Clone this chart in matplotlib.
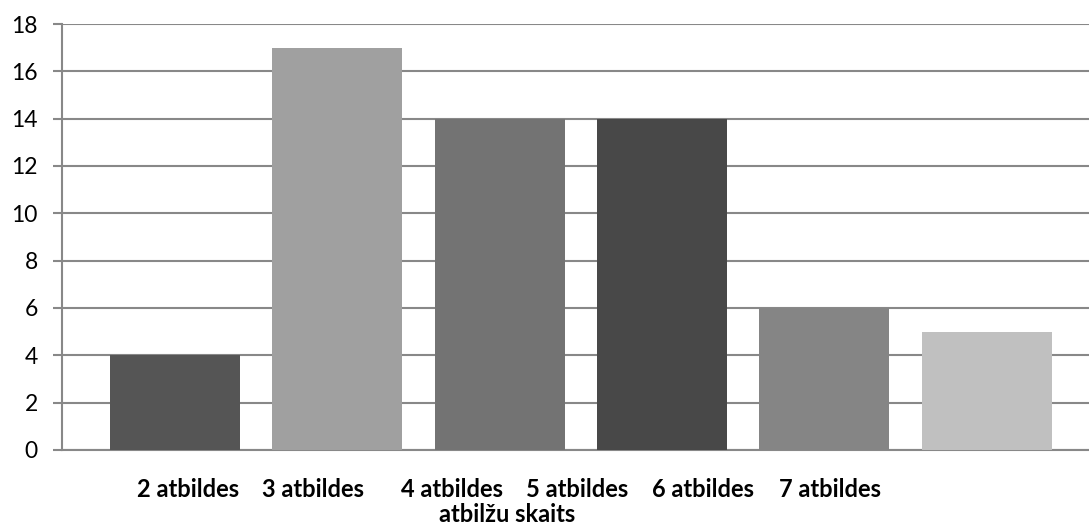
import numpy as np
import matplotlib.pyplot as plt

categories = ['2 atbildes', '3 atbildes', '4 atbildes', '5 atbildes', '6 atbildes', '7 atbildes']
counts = [4, 17, 14, 14, 6, 5]
colors = ['#555555', '#a0a0a0', '#737373', '#484848', '#858585', '#c0c0c0']

# category labels don't line up with the bars, they run on a tighter spacing
label_pos = [0.08, 0.85, 1.707, 2.477, 3.253, 4.036]

plt.rcParams['font.family'] = ['Lato', 'DejaVu Sans']

fig = plt.figure(figsize=(10.89, 5.29), dpi=100)
ax = fig.add_axes([62 / 1089, 79 / 529, 1027 / 1089, 426 / 529])

x = np.arange(len(counts))
ax.bar(x, counts, width=0.8, color=colors, zorder=3)

grid_c = '#888888'
ax.set_ylim(0, 18)
ax.set_yticks(range(0, 19, 2))
ax.yaxis.grid(True, color=grid_c, linewidth=1.5, zorder=0)
ax.set_xlim(-0.696, 5.63)

ax.set_xticks(label_pos)
ax.set_xticklabels(categories, fontsize=17, fontweight='bold')
ax.tick_params(axis='x', length=0, pad=20)
ax.tick_params(axis='y', length=6.5, width=1.5, color=grid_c, labelsize=16.5, pad=11)

for s in ['top', 'right']:
    ax.spines[s].set_visible(False)
for s in ['left', 'bottom']:
    ax.spines[s].set_color(grid_c)
    ax.spines[s].set_linewidth(1.5)

fig.text(507 / 1089, 1 - 514 / 529, 'atbilžu skaits', ha='center', va='center',
         fontsize=17, fontweight='bold')

fig.savefig('out.png', dpi=100)
